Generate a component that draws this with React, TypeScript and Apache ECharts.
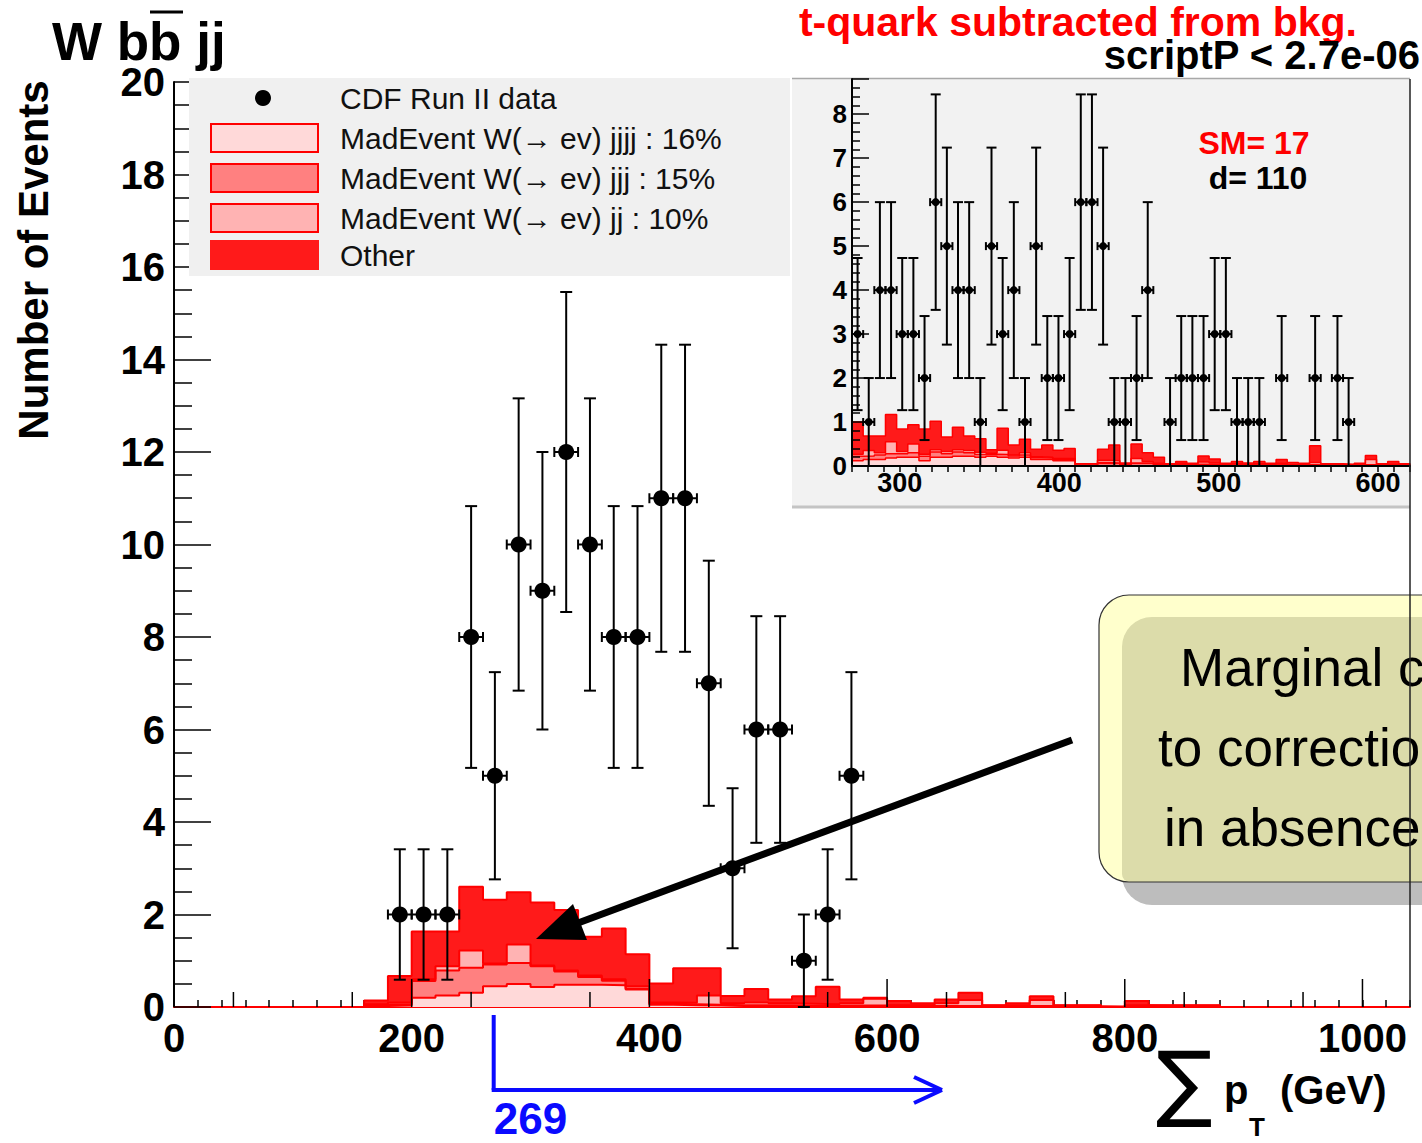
import React, { useEffect, useRef } from "react";
import * as echarts from "echarts";

const FONT = "'Liberation Sans', Arial, Helvetica, sans-serif";

// ---------------- main plot data ----------------
const mainDataCenters = [190, 210, 230, 250, 270, 290, 310, 330, 350, 370, 390, 410, 430, 450, 470, 490, 510, 530, 550, 570];
const mainDataCounts = [2, 2, 2, 8, 5, 10, 9, 12, 10, 8, 8, 11, 11, 7, 3, 6, 6, 1, 2, 5];
const mainDataErrors = [1.41, 1.41, 1.41, 2.83, 2.24, 3.16, 3, 3.46, 3.16, 2.83, 2.83, 3.32, 3.32, 2.65, 1.73, 2.45, 2.45, 1, 1.41, 2.24];
const mainBinWidth = 20;

const mainHistStarts = [160, 180, 200, 220, 240, 260, 280, 300, 320, 340, 360, 380, 400, 420, 440, 460, 480, 500, 520, 540, 560, 580, 600, 620, 640, 660, 680, 700, 720, 740, 760, 780, 800, 820, 840, 860];
const mainJjjj = [0.02, 0.03, 0.2, 0.25, 0.31, 0.45, 0.5, 0.43, 0.48, 0.48, 0.47, 0.38, 0.05, 0.04, 0.03, 0.02, 0.02, 0.02, 0.02, 0.02, 0.02, 0.02, 0.01, 0.01, 0.01, 0.01, 0.01, 0.01, 0.01, 0.01, 0.01, 0.0, 0.01, 0.01, 0.01, 0.01];
const mainJjj = [0.02, 0.03, 0.36, 0.54, 0.54, 0.47, 0.45, 0.45, 0.29, 0.17, 0.1, 0.02, 0.02, 0.02, 0.02, 0.02, 0.02, 0.02, 0.01, 0.01, 0.01, 0.01, 0.01, 0.01, 0.01, 0.01, 0.01, 0.01, 0.01, 0.01, 0.01, 0.0, 0.01, 0.01, 0.01, 0.01];
const mainJj = [0.02, 0.04, 0.04, 0.09, 0.37, 0.02, 0.4, 0.02, 0.02, 0.03, 0.03, 0.05, 0.03, 0.03, 0.2, 0.04, 0.06, 0.04, 0.04, 0.03, 0.05, 0.15, 0.02, 0.02, 0.06, 0.13, 0.01, 0.02, 0.13, 0.01, 0.01, 0.0, 0.02, 0.01, 0.01, 0.01];
const mainOther = [0.08, 0.57, 1.03, 0.75, 1.38, 1.38, 1.13, 1.36, 1.31, 0.84, 1.1, 0.69, 0.41, 0.75, 0.59, 0.16, 0.29, 0.08, 0.16, 0.38, 0.08, 0.02, 0.09, 0.04, 0.08, 0.16, 0.01, 0.04, 0.08, 0.01, 0.01, 0.01, 0.09, 0.01, 0.01, 0.01];

const mainXLabelValues = [0, 200, 400, 600, 800, 1000];
const mainXMidTicks = [50, 150, 250, 350, 450, 550, 650, 750, 850, 950];
const cutValue = 269;

// ---------------- inset data ----------------
const insetBinWidth = 7;
const insetStarts = [270, 277, 284, 291, 298, 305, 312, 319, 326, 333, 340, 347, 354, 361, 368, 375, 382, 389, 396, 403, 410, 417, 424, 431, 438, 445, 452, 459, 466, 473, 480, 487, 494, 501, 508, 515, 522, 529, 536, 543, 550, 557, 564, 571, 578, 585, 592, 599, 606, 613];
const insetCounts = [3, 1, 4, 4, 3, 3, 2, 6, 5, 4, 4, 1, 5, 3, 4, 1, 5, 2, 2, 3, 6, 6, 5, 1, 1, 2, 4, 0, 1, 2, 2, 2, 3, 3, 1, 1, 1, 0, 2, 0, 0, 2, 0, 2, 1, 0, 0, 0, 0, 0];
const insetErrors = [1.73, 1, 2, 2, 1.73, 1.73, 1.41, 2.45, 2.24, 2, 2, 1, 2.24, 1.73, 2, 1, 2.24, 1.41, 1.41, 1.73, 2.45, 2.45, 2.24, 1, 1, 1.41, 2, 0, 1, 1.41, 1.41, 1.41, 1.73, 1.73, 1, 1, 1, 0, 1.41, 0, 0, 1.41, 0, 1.41, 1, 0, 0, 0, 0, 0];
const insetJjjj = [0.12, 0.15, 0.15, 0.18, 0.2, 0.2, 0.12, 0.2, 0.2, 0.22, 0.22, 0.2, 0.22, 0.2, 0.18, 0.2, 0.15, 0.15, 0.12, 0.12, 0.0, 0.0, 0.05, 0.05, 0.02, 0.05, 0.05, 0.03, 0.02, 0.03, 0.02, 0.03, 0.03, 0.02, 0.02, 0.02, 0.02, 0.02, 0.02, 0.02, 0.01, 0.02, 0.01, 0.01, 0.01, 0.01, 0.02, 0.01, 0.01, 0.01];
const insetJjj = [0.1, 0.08, 0.1, 0.1, 0.08, 0.1, 0.1, 0.12, 0.08, 0.1, 0.08, 0.06, 0.05, 0.06, 0.05, 0.05, 0.04, 0.03, 0.03, 0.03, 0.0, 0.0, 0.03, 0.02, 0.01, 0.02, 0.02, 0.01, 0.0, 0.01, 0.0, 0.01, 0.01, 0.0, 0.01, 0.0, 0.01, 0.0, 0.01, 0.0, 0.0, 0.01, 0.0, 0.0, 0.0, 0.0, 0.01, 0.0, 0.01, 0.0];
const insetJj = [0.05, 0.12, 0.05, 0.27, 0.05, 0.2, 0.05, 0.05, 0.05, 0.05, 0.05, 0.05, 0.02, 0.1, 0.02, 0.05, 0.02, 0.02, 0.02, 0.02, 0.0, 0.0, 0.05, 0.05, 0.02, 0.1, 0.03, 0.02, 0.0, 0.02, 0.01, 0.05, 0.03, 0.01, 0.02, 0.01, 0.02, 0.01, 0.03, 0.01, 0.01, 0.05, 0.01, 0.01, 0.01, 0.02, 0.12, 0.01, 0.02, 0.01];
const insetOther = [0.73, 0.33, 0.38, 0.62, 0.51, 0.44, 0.57, 0.65, 0.33, 0.51, 0.33, 0.31, 0.08, 0.5, 0.23, 0.31, 0.17, 0.28, 0.19, 0.23, 0.05, 0.05, 0.25, 0.36, 0.02, 0.33, 0.2, 0.14, 0.03, 0.04, 0.03, 0.14, 0.09, 0.03, 0.05, 0.04, 0.05, 0.03, 0.09, 0.05, 0.04, 0.38, 0.03, 0.03, 0.02, 0.03, 0.09, 0.03, 0.06, 0.03];

// ---------------- texts ----------------
const legendLabels = [
  "CDF Run II data",
  "MadEvent W(\u2192 ev) jjjj : 16%",
  "MadEvent W(\u2192 ev) jjj : 15%",
  "MadEvent W(\u2192 ev) jj : 10%",
  "Other",
];
const COL_JJJJ = "#ffd9d9";
const COL_JJJ = "#ff8080";
const COL_JJ = "#ffb3b3";
const COL_OTHER = "#ff1a1a";
const LINE_RED = "#ff0000";

function cumulate(layers: number[][]): number[][] {
  const out: number[][] = [];
  let run = layers[0].map(() => 0);
  for (const l of layers) {
    run = run.map((v, i) => v + l[i]);
    out.push(run.slice());
  }
  return out;
}

function stepData(starts: number[], width: number, values: number[]) {
  const pts: number[][] = [[starts[0], 0]];
  for (let i = 0; i < starts.length; i++) pts.push([starts[i], values[i]]);
  const last = starts[starts.length - 1] + width;
  pts.push([last, values[values.length - 1]]);
  pts.push([last, 0]);
  return pts;
}

function histSeries(starts: number[], width: number, layers: number[][], axisIdx: number, lw: number) {
  const cum = cumulate(layers); // [jjjj, +jjj, +jj, +other]
  const colors = [COL_JJJJ, COL_JJJ, COL_JJ, COL_OTHER];
  const res: any[] = [];
  for (let k = 3; k >= 0; k--) {
    res.push({
      type: "line",
      xAxisIndex: axisIdx,
      yAxisIndex: axisIdx,
      data: stepData(starts, width, cum[k]),
      step: "end",
      symbol: "none",
      showSymbol: false,
      silent: true,
      z: 2,
      lineStyle: { color: LINE_RED, width: lw },
      areaStyle: { color: colors[k], opacity: 1, origin: "start" },
    });
  }
  return res;
}

function errSeries(data: number[][], axisIdx: number, halfBin: number, r: number, cap: number, endTick: number, lw: number) {
  return {
    type: "custom",
    xAxisIndex: axisIdx,
    yAxisIndex: axisIdx,
    silent: true,
    z: 6,
    data,
    renderItem: (_p: any, api: any) => {
      const x = api.value(0);
      const y = api.value(1);
      const e = api.value(2);
      const c = api.coord([x, y]);
      const t = api.coord([x, y + e]);
      const b = api.coord([x, Math.max(0, y - e)]);
      const l = api.coord([x - halfBin, y]);
      const rr = api.coord([x + halfBin, y]);
      const st = { stroke: "#000", lineWidth: lw };
      return {
        type: "group",
        children: [
          { type: "line", shape: { x1: c[0], y1: t[1], x2: c[0], y2: b[1] }, style: st },
          { type: "line", shape: { x1: c[0] - cap, y1: t[1], x2: c[0] + cap, y2: t[1] }, style: st },
          { type: "line", shape: { x1: c[0] - cap, y1: b[1], x2: c[0] + cap, y2: b[1] }, style: st },
          { type: "line", shape: { x1: l[0], y1: c[1], x2: rr[0], y2: c[1] }, style: st },
          { type: "line", shape: { x1: l[0], y1: c[1] - endTick, x2: l[0], y2: c[1] + endTick }, style: st },
          { type: "line", shape: { x1: rr[0], y1: c[1] - endTick, x2: rr[0], y2: c[1] + endTick }, style: st },
          { type: "circle", shape: { cx: c[0], cy: c[1], r }, style: { fill: "#000" } },
        ],
      };
    },
  };
}

function tickSeries(values: number[], len: number) {
  return {
    type: "custom",
    xAxisIndex: 0,
    yAxisIndex: 0,
    silent: true,
    z: 4,
    data: values.map((v) => [v, 0]),
    renderItem: (_p: any, api: any) => {
      const p = api.coord([api.value(0), 0]);
      return { type: "line", shape: { x1: p[0], y1: p[1], x2: p[0], y2: p[1] - len }, style: { stroke: "#000", lineWidth: 1.5 } };
    },
  };
}

const txt = (x: number, y: number, text: string, size: number, opts: any = {}) => ({
  type: "text",
  x,
  y,
  z: opts.z ?? 20,
  rotation: opts.rotation ?? 0,
  silent: true,
  style: {
    text,
    fontSize: size,
    fontWeight: opts.weight ?? "bold",
    fontFamily: opts.family ?? FONT,
    fill: opts.color ?? "#000",
    align: opts.align ?? "left",
    verticalAlign: "middle",
  },
});

const ln = (x1: number, y1: number, x2: number, y2: number, color: string, w: number, z = 20) => ({
  type: "line",
  z,
  silent: true,
  shape: { x1, y1, x2, y2 },
  style: { stroke: color, lineWidth: w },
});

function buildGraphics(bx: number, by: number) {
  const g: any[] = [];
  // title
  g.push(txt(52, 41, "W bb jj", 53));
  g.push(ln(150, 12, 183, 12, "#000", 3));
  g.push(txt(1357, 22, "t-quark subtracted from bkg.", 41, { align: "right", color: "#ff0000" }));
  g.push(txt(1420, 55, "scriptP < 2.7e-06", 40, { align: "right" }));
  // y title
  g.push(txt(33, 260, "Number of Events", 42, { align: "center", rotation: Math.PI / 2 }));
  // legend
  g.push({ type: "rect", z: 1, silent: true, shape: { x: 189, y: 78, width: 601, height: 198 }, style: { fill: "#f0f0f0" } });
  g.push({ type: "circle", z: 20, silent: true, shape: { cx: 263, cy: 98, r: 8 }, style: { fill: "#000" } });
  const rowsY = [98, 138, 178, 218, 255];
  const boxCols = [COL_JJJJ, COL_JJJ, COL_JJ, COL_OTHER];
  for (let i = 0; i < 4; i++) {
    g.push({
      type: "rect",
      z: 20,
      silent: true,
      shape: { x: 211, y: rowsY[i + 1] - 14, width: 107, height: 28 },
      style: { fill: boxCols[i], stroke: i < 3 ? LINE_RED : COL_OTHER, lineWidth: 2 },
    });
  }
  legendLabels.forEach((l, i) => g.push(txt(340, rowsY[i], l, 30, { weight: "normal", color: "#111" })));
  // inset background
  g.push({ type: "rect", z: 1, silent: true, shape: { x: 792, y: 78, width: 618, height: 429 }, style: { fill: "#f2f2f2" } });
  g.push(ln(792, 78.5, 1410, 78.5, "#a8a8a8", 1.5, 1));
  g.push(ln(792, 507, 1410, 507, "#c4c4c4", 3, 1));
  g.push(txt(1254, 143, "SM= 17", 32, { align: "center", color: "#ff0000" }));
  g.push(txt(1258, 178, "d= 110", 32, { align: "center" }));
  // annotation box
  g.push({ type: "rect", z: 10, silent: true, shape: { x: 1122, y: 617, width: 360, height: 288, r: 30 }, style: { fill: "#bdbdbd" } });
  g.push({ type: "rect", z: 11, silent: true, shape: { x: 1099, y: 595, width: 380, height: 287, r: 30 }, style: { fill: "#ffffcc" } });
  g.push({ type: "rect", z: 12, silent: true, shape: { x: 1122, y: 617, width: 360, height: 265, r: [30, 0, 0, 8] }, style: { fill: "#dcdcaa" } });
  g.push({ type: "rect", z: 13, silent: true, shape: { x: 1099, y: 595, width: 380, height: 287, r: 30 }, style: { fill: "none", stroke: "#333", lineWidth: 1.2 } });
  g.push(txt(1180, 667, "Marginal c", 53, { weight: "normal", z: 14 }));
  g.push(txt(1158, 747, "to correctio", 53, { weight: "normal", z: 14 }));
  g.push(txt(1164, 827, "in absence", 53, { weight: "normal", z: 14 }));
  // black arrow
  g.push(ln(1072, 740, 578, 923, "#000", 7, 16));
  g.push({ type: "polygon", z: 16, silent: true, shape: { points: [[536, 939], [573, 904], [587, 940]] }, style: { fill: "#000" } });
  // blue cut marker
  const blue = "#0a0aff";
  g.push(ln(bx, by + 8, bx, 1090, blue, 4, 16));
  g.push(ln(bx - 2, 1090, 942, 1090, blue, 4, 16));
  g.push(ln(942, 1090, 914, 1077, blue, 4, 16));
  g.push(ln(942, 1090, 914, 1103, blue, 4, 16));
  g.push(txt(bx, 1118, String(cutValue), 44, { color: blue }));
  // x title
  g.push(txt(1156, 1082, "\u2211", 84, { weight: "normal", family: "'DejaVu Sans', sans-serif" }));
  g.push(txt(1224, 1090, "p", 40));
  g.push(txt(1249, 1127, "T", 26));
  g.push(txt(1280, 1090, "(GeV)", 40));
  // right frame
  g.push(ln(1410, 79, 1410, 1007, "#222", 1.5, 30));
  return g;
}

export default function App() {
  const ref = useRef<HTMLDivElement>(null);
  useEffect(() => {
    const chart = echarts.init(ref.current as HTMLDivElement, null, { renderer: "svg" });
    const tickStyle = { color: "#000", width: 1.5 };
    const labelBase = { fontWeight: "bold", fontFamily: FONT, color: "#000" };

    const mainErr = mainDataCenters.map((c, i) => [c, mainDataCounts[i], mainDataErrors[i]]);
    const insetErr = insetStarts
      .map((s, i) => [s + insetBinWidth / 2, insetCounts[i], insetErrors[i]])
      .filter((d) => d[1] > 0);

    const option: any = {
      animation: false,
      grid: [
        { left: 174, top: 82, width: 1236, height: 925, show: false },
        { left: 852, top: 79, width: 558, height: 387, show: false },
      ],
      xAxis: [
        {
          gridIndex: 0,
          type: "value",
          min: 0,
          max: 1040,
          interval: 20,
          axisLine: { show: true, lineStyle: { color: LINE_RED, width: 2 } },
          axisTick: { show: true, inside: true, length: 7, lineStyle: tickStyle },
          minorTick: { show: false },
          splitLine: { show: false },
          axisLabel: {
            ...labelBase,
            fontSize: 40,
            margin: 11,
            formatter: (v: number) => (mainXLabelValues.indexOf(v) >= 0 ? String(v) : ""),
          },
        },
        {
          gridIndex: 1,
          type: "value",
          min: 270,
          max: 620,
          interval: 10,
          z: 5,
          axisLine: { show: true, lineStyle: { color: "#000", width: 2 } },
          axisTick: { show: true, inside: false, length: 6, lineStyle: tickStyle },
          minorTick: { show: false },
          splitLine: { show: false },
          axisLabel: {
            ...labelBase,
            fontSize: 27,
            margin: 3,
            formatter: (v: number) => (v % 100 === 0 ? String(v) : ""),
          },
        },
      ],
      yAxis: [
        {
          gridIndex: 0,
          type: "value",
          min: 0,
          max: 20,
          interval: 2,
          axisLine: { show: true, lineStyle: { color: "#000", width: 2 } },
          axisTick: { show: true, inside: true, length: 37, lineStyle: tickStyle },
          minorTick: { show: true, splitNumber: 4, length: 18, lineStyle: tickStyle },
          splitLine: { show: false },
          minorSplitLine: { show: false },
          axisLabel: { ...labelBase, fontSize: 40, margin: 9 },
        },
        {
          gridIndex: 1,
          type: "value",
          min: 0,
          max: 8.8,
          interval: 1,
          z: 5,
          axisLine: { show: true, lineStyle: { color: "#000", width: 2 } },
          axisTick: { show: true, inside: true, length: 17, lineStyle: tickStyle },
          minorTick: { show: true, splitNumber: 5, length: 8, lineStyle: tickStyle },
          splitLine: { show: false },
          minorSplitLine: { show: false },
          axisLabel: {
            ...labelBase,
            fontSize: 26,
            margin: 5,
            formatter: (v: number) => (Number.isInteger(v) ? String(v) : ""),
          },
        },
      ],
      series: [
        ...histSeries(mainHistStarts, mainBinWidth, [mainJjjj, mainJjj, mainJj, mainOther], 0, 2),
        ...histSeries(insetStarts, insetBinWidth, [insetJjjj, insetJjj, insetJj, insetOther], 1, 1.5),
        tickSeries(mainXLabelValues, 28),
        tickSeries(mainXMidTicks, 15),
        errSeries(mainErr, 0, mainBinWidth / 2, 8, 6, 5, 2),
        errSeries(insetErr, 1, insetBinWidth / 2, 4, 5, 4, 2),
      ],
    };
    chart.setOption(option);
    const p = chart.convertToPixel({ gridIndex: 0 } as any, [cutValue, 0]) as number[];
    chart.setOption({ graphic: buildGraphics(p[0], p[1]) });
    return () => chart.dispose();
  }, []);
  return (
    <div
      ref={ref}
      style={{ position: "fixed", left: 0, top: 0, width: 1422, height: 1143, background: "#fff" }}
    />
  );
}
